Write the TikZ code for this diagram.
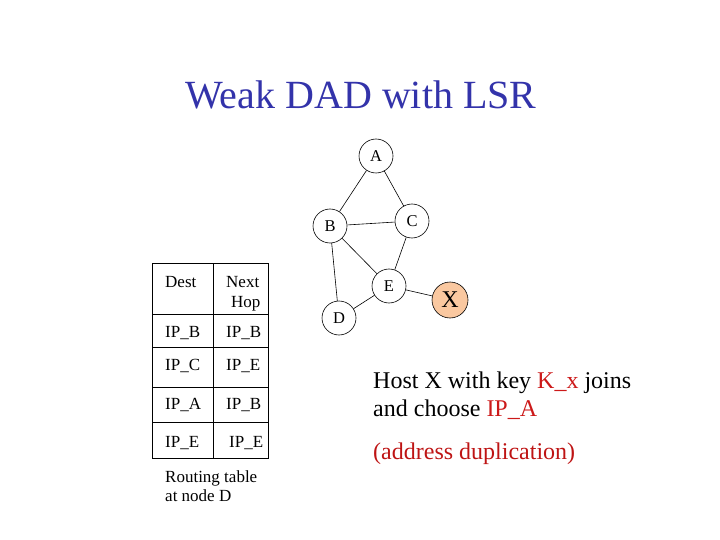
\documentclass[tikz,border=0pt]{standalone}
\usepackage{fontspec}
\setmainfont{Liberation Serif}
\begin{document}
\begin{tikzpicture}[x=1pt,y=-1pt,
  nd/.style={circle,draw,line width=0.6pt,minimum size=34pt,inner sep=0pt,font=\fontsize{16.5}{16.5}\selectfont},
  ln/.style={line width=0.6pt},
  tt/.style={font=\fontsize{17}{19}\selectfont,anchor=base west,inner sep=0pt},
  bt/.style={font=\fontsize{24}{28}\selectfont,anchor=base west,inner sep=0pt}]
\useasboundingbox (0,0) rectangle (720,540);
\node[font=\fontsize{40}{40}\selectfont,text={rgb,255:red,51;green,51;blue,170}] (title) at (361,95) {Weak DAD with LSR};
\node[nd] (A) at (376,156) {A};
\node[nd] (B) at (330,226) {B};
\node[nd] (C) at (412,221) {C};
\node[nd] (E) at (389,286) {E};
\node[nd] (D) at (339,318) {D};
\node[nd,fill={rgb,255:red,250;green,200;blue,160},minimum size=36pt,font=\fontsize{24}{24}\selectfont] (X) at (450,300) {X};
\draw[ln] (A)--(B) (A)--(C) (B)--(C) (B)--(E) (C)--(E) (B)--(D) (D)--(E) (E)--(X);
% table
\draw[ln] (152,263) rectangle (268,458);
\draw[ln] (213,263)--(213,458);
\foreach \y in {314,347,387,422} \draw[ln] (152,\y)--(268,\y);
\node[tt] (t1) at (165,287) {Dest};
\node[tt] (t2) at (226,287) {Next};
\node[tt] (t3) at (231,307) {Hop};
\node[tt] (r1a) at (165,337) {IP\_B}; \node[tt] (r1b) at (226,337) {IP\_B};
\node[tt] (r2a) at (165,370) {IP\_C}; \node[tt] (r2b) at (226,370) {IP\_E};
\node[tt] (r3a) at (165,409) {IP\_A}; \node[tt] (r3b) at (226,409) {IP\_B};
\node[tt] (r4a) at (165,447) {IP\_E}; \node[tt] (r4b) at (229,447) {IP\_E};
\node[tt] (cap1) at (165,482) {Routing table};
\node[tt] (cap2) at (165,501) {at node D};
% text
\node[bt] (h1) at (373,388) {Host X with key \textcolor[rgb]{0.8,0.1,0.1}{K\_x} joins};
\node[bt] (h2) at (373,416) {and choose \textcolor[rgb]{0.8,0.1,0.1}{IP\_A}};
\node[bt,text={rgb,255:red,190;green,20;blue,20}] (h3) at (373,459) {(address duplication)};
\end{tikzpicture}
\end{document}
